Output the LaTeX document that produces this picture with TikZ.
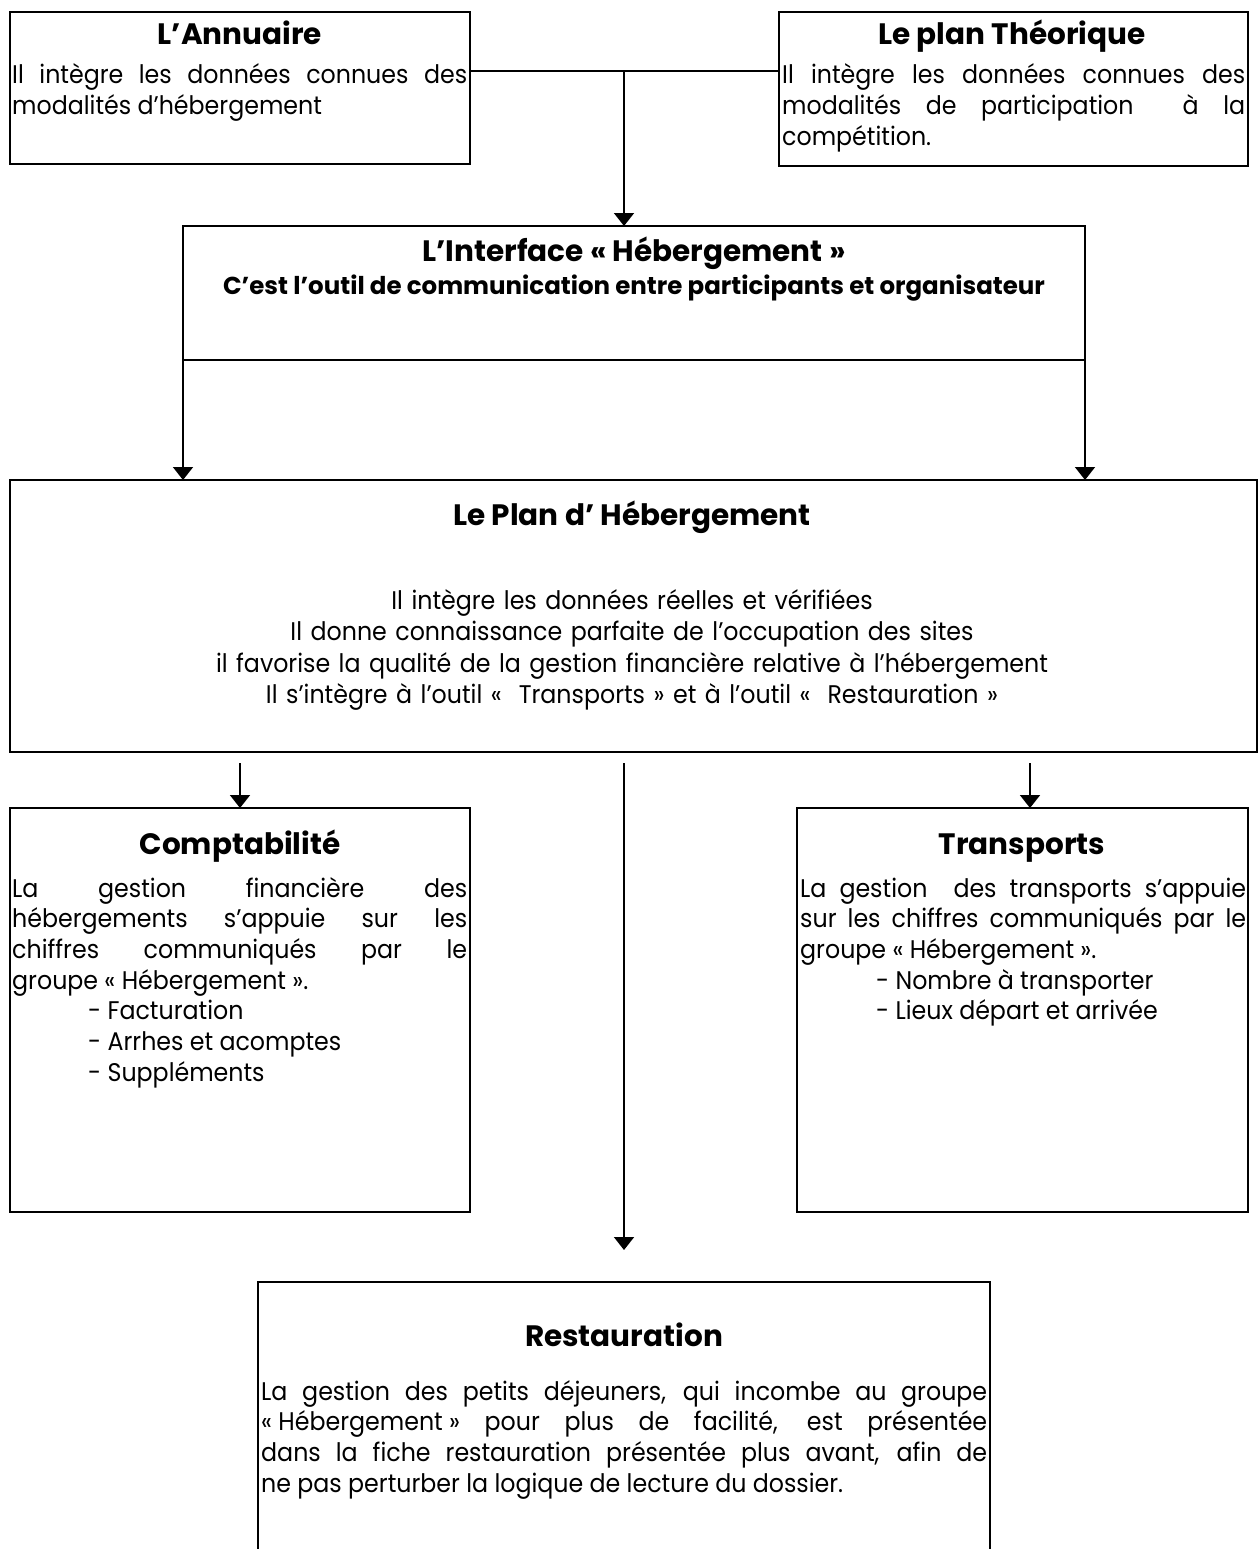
\documentclass[tikz,border=0pt]{standalone}
\usepackage{fontspec}
\setmainfont{Poppins}[FakeStretch=0.93]
\newfontfamily\titlefont{Poppins}
\usetikzlibrary{arrows.meta}
\tikzset{
  box/.style={draw, line width=1.8pt, anchor=north west, inner sep=0pt, outer sep=0pt},
  ln/.style={line width=1.8pt},
  arr/.style={line width=1.8pt, -{Triangle[width=20pt,length=13pt]}},
  ttl/.style={font=\titlefont\bfseries\fontsize{29.5}{33}\selectfont, anchor=base, inner sep=0pt},
  csub/.style={font=\titlefont\bfseries\fontsize{24.5}{28}\selectfont, anchor=base, inner sep=0pt},
  body/.style={font=\fontsize{25.5}{30.7}\selectfont, anchor=base west, inner sep=0pt, align=justify},
  cbody/.style={font=\fontsize{25.5}{31.5}\selectfont, anchor=base, inner sep=0pt, align=center},
}
\newcommand{\heb}{\mbox{« Hébergement »}}
\begin{document}
\hyphenpenalty=10000 \exhyphenpenalty=10000 \tolerance=10000
\begin{tikzpicture}[x=1pt,y=-1pt]
\useasboundingbox[fill=white] (0,0) rectangle (1258,1549);
\clip (0,0) rectangle (1258,1549);
% boxes
\node[box, minimum width=460pt, minimum height=152pt] (ann) at (10,12) {};
\node[box, minimum width=469pt, minimum height=154pt] (theo) at (779,12) {};
\node[box, minimum width=902pt, minimum height=134pt] (inter) at (183,226) {};
\node[box, minimum width=1247pt, minimum height=272pt] (plan) at (10,480) {};
\node[box, minimum width=460pt, minimum height=404pt] (comp) at (10,808) {};
\node[box, minimum width=451pt, minimum height=404pt] (trans) at (797,808) {};
\node[box, minimum width=732pt, minimum height=330pt] (resto) at (258,1282) {};
% texts
\node[ttl] (annT) at (240,45) {L’Annuaire};
\node[body, text width=455pt] (annB) at (12,84) {Il intègre les données connues des\linebreak modalités d’hébergement};
\node[ttl] (theoT) at (1012,45) {Le plan Théorique};
\node[body, text width=463pt] (theoB) at (782,84) {Il intègre les données connues des\linebreak modalités de participation \ à la\linebreak compétition.};
\node[ttl] (interT) at (634,261) {L’Interface « Hébergement »};
\node[csub] (interS) at (634,294) {C’est l’outil de communication entre participants et organisateur};
\node[ttl] (planT) at (632,525) {Le Plan d’ Hébergement};
\node[cbody, text width=1200pt] (planB) at (632,609) {Il intègre les données réelles et vérifiées\\ Il donne connaissance parfaite de l’occupation des sites\\ il favorise la qualité de la gestion financière relative à l’hébergement\\ Il s’intègre à l’outil « \ Transports » et à l’outil « \ Restauration »};
\node[ttl] (compT) at (240,854) {Comptabilité};
\node[body, text width=455pt] (compB) at (12,897) {La gestion financière des\linebreak hébergements s’appuie sur les\linebreak chiffres communiqués par le\linebreak groupe \heb.\par
\hspace*{76pt}- Facturation\par
\hspace*{76pt}- Arrhes et acomptes\par
\hspace*{76pt}- Suppléments};
\node[ttl] (transT) at (1022,854) {Transports};
\node[body, text width=446pt] (transB) at (800,897) {La gestion \ des transports s’appuie\linebreak sur les chiffres communiqués par le\linebreak groupe \heb.\par
\hspace*{76pt}- Nombre à transporter\par
\hspace*{76pt}- Lieux départ et arrivée};
\node[ttl] (restoT) at (624,1346) {Restauration};
\node[body, text width=726pt] (restoB) at (261,1400) {La gestion des petits déjeuners, qui incombe au groupe\linebreak \heb{} pour plus de facilité, est présentée\linebreak dans la fiche restauration présentée plus avant, afin de\linebreak ne pas perturber la logique de lecture du dossier.};
% connectors
\coordinate (j) at (624,71);
\draw[ln] (j -| ann.east) -- (j -| theo.west);
\draw[arr] (j) -- (j |- inter.north);
\draw[arr] (inter.south west) -- (inter.south west |- plan.north);
\draw[arr] (inter.south east) -- (inter.south east |- plan.north);
\coordinate (c1) at (240,763);
\coordinate (c2) at (624,763);
\coordinate (c3) at (1030,763);
\coordinate (c4) at (624,1250);
\draw[arr] (c1) -- (c1 |- comp.north);
\draw[arr] (c3) -- (c3 |- trans.north);
\draw[arr] (c2) -- (c4);
\end{tikzpicture}
\end{document}
